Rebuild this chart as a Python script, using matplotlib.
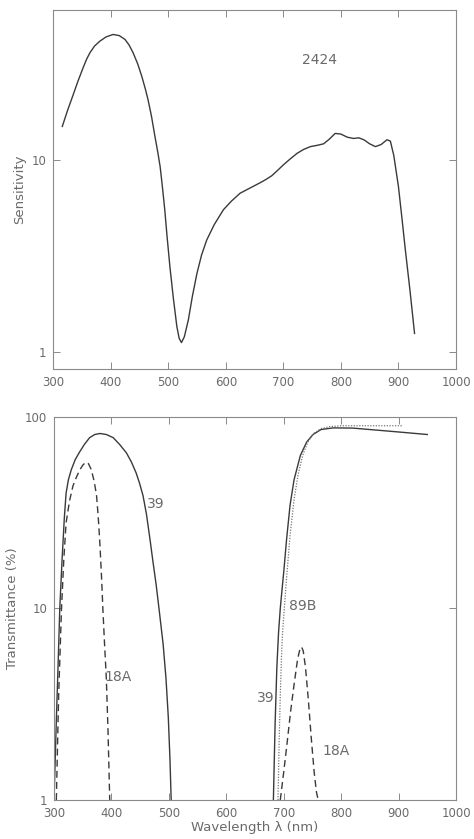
import matplotlib
matplotlib.use("Agg")
import matplotlib.pyplot as plt
from matplotlib.ticker import FixedLocator, NullLocator

# ---- data: top panel (2424 sensitivity) ----
sens_wl = [316, 325, 334, 343, 352, 358, 364, 372, 381, 392, 404, 415, 425, 432, 439, 447, 454,
           460, 465, 471, 477, 482, 486, 490, 494, 498, 503, 509, 515, 519, 523, 528, 535, 542,
           550, 558, 567, 580, 596, 610, 625, 645, 660, 670, 680, 690, 700, 712, 724, 735, 747,
           760, 770, 780, 790, 800, 811, 822, 831, 840, 850, 860, 870, 880, 886, 892, 900, 906,
           912, 920, 928]
sens_val = [14.9, 18.0, 21.4, 25.5, 30.0, 33.2, 36.0, 39.0, 41.3, 43.5, 44.8, 44.2, 42.2, 39.5, 36.0,
            31.5, 27.2, 23.5, 20.5, 16.8, 13.2, 10.9, 9.2, 7.2, 5.5, 4.0, 2.77, 1.9, 1.36, 1.18,
            1.12, 1.2, 1.47, 1.95, 2.57, 3.2, 3.83, 4.6, 5.5, 6.1, 6.7, 7.2, 7.6, 7.9, 8.26, 8.8,
            9.4, 10.1, 10.8, 11.3, 11.7, 11.9, 12.1, 12.8, 13.7, 13.6, 13.1, 12.9, 13.0, 12.7,
            12.1, 11.7, 12.0, 12.7, 12.5, 10.5, 7.26, 5.0, 3.4, 2.1, 1.25]

# ---- data: bottom panel (filter transmittance) ----
f39a_wl = [300, 302, 304, 307, 310, 314, 318, 321, 325, 330, 337, 345, 353, 362, 371, 380, 391,
           403, 414, 426, 435, 443, 449, 455, 461, 467, 472, 478, 484, 490, 495, 499, 502, 504]
f39a_val = [1.0, 1.6, 2.6, 5.0, 10.0, 18.0, 30.0, 40.0, 47.0, 53.0, 60.0, 66.0, 72.0, 78.0, 81.0,
            82.0, 81.0, 78.0, 72.0, 65.0, 58.0, 51.0, 45.0, 38.8, 31.0, 23.1, 17.8, 13.2, 9.3,
            6.5, 4.3, 2.7, 1.6, 1.0]

f18a_wl = [304, 308, 313, 317, 321, 327, 333, 339, 345, 350, 355, 360, 365, 370, 374, 377, 380,
           383, 385, 388, 391, 394, 397]
f18a_val = [1.0, 3.5, 10.0, 18.0, 28.0, 36.5, 43.7, 48.5, 53.0, 56.0, 58.0, 57.0, 53.0, 46.0,
            39.0, 30.0, 21.4, 14.0, 10.0, 6.5, 4.36, 2.3, 1.0]

f39b_wl = [682, 685, 688, 691, 694, 697, 700, 705, 711, 718, 729, 740, 751, 765, 786, 820, 870, 910, 950]
f39b_val = [1.0, 2.5, 4.9, 7.5, 10.0, 12.5, 15.5, 23.0, 34.6, 47.0, 63.0, 74.0, 81.0, 86.0, 87.7, 87.5, 85.0, 83.0, 81.0]

f89b_wl = [690, 692, 694, 696, 698, 701, 705, 711, 718, 725, 733, 742, 752, 765, 780, 800, 840, 880, 908]
f89b_val = [1.0, 2.0, 3.5, 5.5, 7.5, 10.0, 14.5, 24.0, 37.0, 50.0, 63.0, 74.0, 82.0, 87.0, 89.0, 90.0, 90.0, 90.0, 90.0]

f18b_wl = [694, 700, 706, 712, 718, 724, 728, 731, 734, 738, 743, 748, 753, 757, 760]
f18b_val = [1.0, 1.4, 2.0, 2.9, 4.0, 5.4, 6.1, 6.3, 6.0, 4.9, 3.3, 2.1, 1.4, 1.1, 1.0]

xticks = [300, 400, 500, 600, 700, 800, 900, 1000]
xticklabels = ["300", "400", "500", "600", "700", "800", "900", "1000"]

line_c = "#3a3a3a"
text_c = "#6a6a6a"
frame_c = "#8a8a8a"

fig = plt.figure(figsize=(4.74, 8.39), dpi=100)
ax1 = fig.add_axes([0.112, 0.560, 0.850, 0.428])
ax2 = fig.add_axes([0.114, 0.0465, 0.848, 0.4565])

for ax in (ax1, ax2):
    ax.set_yscale("log")
    ax.set_xlim(300, 1000)
    ax.xaxis.set_major_locator(FixedLocator(xticks))
    ax.set_xticklabels(xticklabels)
    ax.yaxis.set_minor_locator(NullLocator())
    ax.tick_params(axis="both", which="both", direction="in", top=True, right=True,
                   length=5, width=0.7, color=frame_c, labelcolor=text_c, labelsize=8.5)
    ax.tick_params(axis="x", pad=5)
    ax.tick_params(axis="y", pad=5)
    for s in ax.spines.values():
        s.set_color(frame_c)
        s.set_linewidth(0.8)

# top panel
ax1.plot(sens_wl, sens_val, color=line_c, lw=1.0)
ax1.set_ylim(0.815, 60)
ax1.yaxis.set_major_locator(FixedLocator([1, 10]))
ax1.set_yticklabels(["1", "10"])
ax1.set_ylabel("Sensitivity", color=text_c, fontsize=9.5)
ax1.text(762, 33, "2424", color=text_c, fontsize=10, ha="center", va="center")

# bottom panel
ax2.plot(f39a_wl, f39a_val, color=line_c, lw=1.0)
ax2.plot(f18a_wl, f18a_val, color=line_c, lw=1.0, ls=(0, (5, 3)))
ax2.plot(f39b_wl, f39b_val, color=line_c, lw=1.0)
ax2.plot(f89b_wl, f89b_val, color="#777777", lw=0.9, ls=(0, (1, 1.2)))
ax2.plot(f18b_wl, f18b_val, color=line_c, lw=1.0, ls=(0, (5, 3)))
ax2.set_ylim(1, 100)
ax2.yaxis.set_major_locator(FixedLocator([1, 10, 100]))
ax2.set_yticklabels(["1", "10", "100"])
ax2.set_ylabel("Transmittance (%)", color=text_c, fontsize=9.5)
ax2.set_xlabel("Wavelength \u03bb (nm)", color=text_c, fontsize=9.5, labelpad=1)

ax2.text(478, 35, "39", color=text_c, fontsize=10, ha="center", va="center")
ax2.text(411, 4.4, "18A", color=text_c, fontsize=10, ha="center", va="center")
ax2.text(733, 10.3, "89B", color=text_c, fontsize=10, ha="center", va="center")
ax2.text(669, 3.4, "39", color=text_c, fontsize=10, ha="center", va="center")
ax2.text(792, 1.8, "18A", color=text_c, fontsize=10, ha="center", va="center")

fig.savefig("out.png", dpi=100)
